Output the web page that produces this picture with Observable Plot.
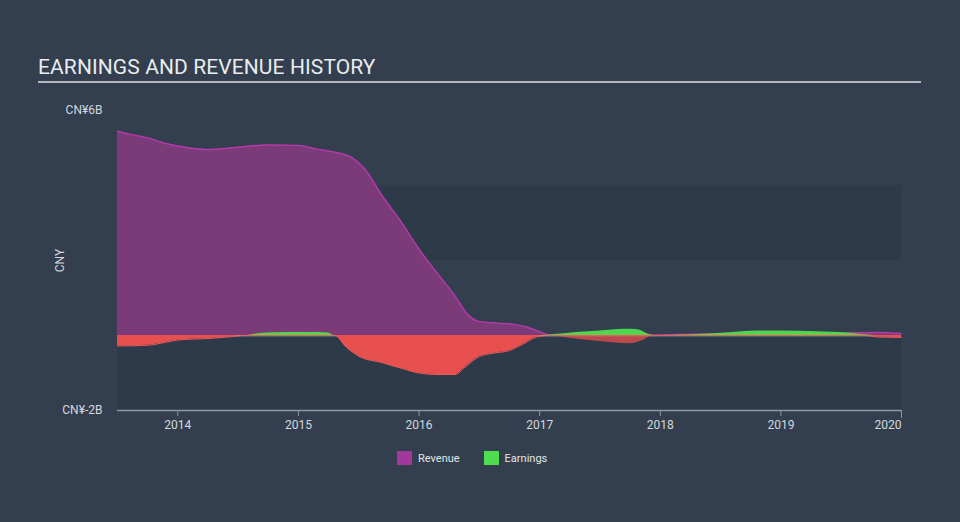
<!DOCTYPE html>
<html>
<head>
<meta charset="utf-8">
<script src="https://cdn.jsdelivr.net/npm/d3@7"></script>
<script src="https://cdn.jsdelivr.net/npm/@observablehq/plot@0.6"></script>
<style>
  html, body { margin: 0; padding: 0; background: #333f4f; width: 960px; height: 522px; overflow: hidden; font-family: Roboto, "Open Sans", sans-serif; }
  #title { position: absolute; left: 38px; top: 55px; font-size: 21px; color: #e9ecee; letter-spacing: 0.1px; white-space: nowrap; }
  #rule { position: absolute; left: 38px; top: 81px; width: 883px; height: 2px; background: #b4b8bc; }
  #chart { position: absolute; left: 0; top: 90px; }
  #legend { position: absolute; top: 451px; left: 397px; display: flex; align-items: center; font-size: 11px; color: #e2e5e8; }
  .sw { width: 15px; height: 14px; display: inline-block; margin-right: 6px; }
  .item { display: flex; align-items: center; margin-right: 24px; }
</style>
</head>
<body>
<div id="title">EARNINGS AND REVENUE HISTORY</div>
<div id="rule"></div>
<div id="chart"></div>
<div id="legend">
  <div class="item"><span class="sw" style="background:#a2379c"></span>Revenue</div>
  <div class="item"><span class="sw" style="background:#4fdc4f"></span>Earnings</div>
</div>
<script>
// Revenue (CN¥ billions)
const revYears = [2013.5, 2013.6, 2013.75, 2013.9, 2014.1, 2014.25, 2014.5, 2014.75, 2015.0, 2015.15, 2015.3, 2015.45, 2015.55, 2015.7, 2015.85, 2016.0, 2016.15, 2016.3, 2016.4, 2016.5, 2016.65, 2016.8, 2016.9, 2017.0, 2017.1, 2017.2, 2017.5, 2017.75, 2017.85, 2017.95, 2018.1, 2018.5, 2019.0, 2019.5, 2019.8, 2020.0];
const revenue  = [5.45, 5.37, 5.27, 5.12, 5.0, 4.96, 5.02, 5.08, 5.07, 4.97, 4.89, 4.73, 4.44, 3.70, 3.04, 2.30, 1.66, 1.05, 0.57, 0.37, 0.33, 0.29, 0.22, 0.10, 0.0, -0.05, -0.16, -0.22, -0.14, 0.0, 0.02, 0.04, 0.05, 0.07, 0.08, 0.05];

// Earnings (CN¥ billions)
const earnYears = [2013.5, 2013.75, 2013.9, 2014.0, 2014.25, 2014.45, 2014.55, 2014.7, 2014.9, 2015.1, 2015.25, 2015.3, 2015.4, 2015.5, 2015.7, 2015.85, 2016.0, 2016.15, 2016.3, 2016.38, 2016.5, 2016.62, 2016.75, 2016.85, 2017.0, 2017.1, 2017.3, 2017.5, 2017.7, 2017.8, 2017.95, 2018.1, 2018.4, 2018.6, 2018.8, 2019.0, 2019.3, 2019.55, 2019.7, 2019.8, 2020.0];
const earnings  = [-0.28, -0.26, -0.18, -0.12, -0.08, -0.03, 0.0, 0.06, 0.08, 0.08, 0.07, 0.0, -0.32, -0.55, -0.73, -0.87, -1.0, -1.04, -1.04, -0.85, -0.56, -0.47, -0.40, -0.25, -0.02, 0.02, 0.08, 0.12, 0.17, 0.16, 0.0, 0.01, 0.04, 0.08, 0.12, 0.12, 0.10, 0.07, 0.02, -0.04, -0.05];

const yTicks = [-2, 6];
const yTickLabels = ["CN¥-2B", "CN¥6B"];
const xTicks = [2014, 2015, 2016, 2017, 2018, 2019, 2020];
const bandRanges = [[-2, 0], [2, 4]];

const rev = revYears.map((t, i) => ({t, v: revenue[i]}));
const earn = earnYears.map((t, i) => ({t, v: earnings[i]}));
const bands = bandRanges.map(([a, b]) => ({a, b}));
const lastTick = xTicks[xTicks.length - 1];
const innerTicks = xTicks.slice(0, -1);

const purpleFill = "#7b3a78", purpleStroke = "#b13aa8";
const greenFill = "#4ed64e";
const redFill = "#e84f4f", redStroke = "#f05a5a";
const curve = "monotone-x";
const axisColor = "#8c98a4", labelColor = "#d4d8dc";

const chart = Plot.plot({
  width: 960,
  height: 350,
  marginLeft: 117,
  marginRight: 59,
  marginTop: 20,
  marginBottom: 30,
  style: {background: "transparent", fontFamily: "Roboto, sans-serif", color: labelColor, overflow: "visible"},
  x: {domain: [2013.5, 2020], label: null},
  y: {domain: [-2, 6], label: null},
  marks: [
    Plot.rect(bands, {x1: 2013.5, x2: 2020, y1: "a", y2: "b", fill: "#2d3a4a"}),
    Plot.ruleY([0], {stroke: "#e6e6e6", strokeWidth: 1.5, strokeOpacity: 0.8}),
    Plot.areaY(rev, {x: "t", y: d => Math.max(0, d.v), fill: purpleFill, curve}),
    Plot.lineY(rev, {x: "t", y: d => Math.max(0, d.v), stroke: purpleStroke, strokeWidth: 1.5, curve}),
    Plot.areaY(rev, {x: "t", y: d => Math.min(0, d.v), fill: redFill, fillOpacity: 0.75, curve}),
    Plot.areaY(earn, {x: "t", y: d => Math.max(0, d.v), fill: greenFill, curve}),
    Plot.areaY(earn, {x: "t", y: d => Math.min(0, d.v), fill: redFill, curve}),
    Plot.lineY(earn, {x: "t", y: d => Math.min(0, d.v), stroke: redStroke, strokeWidth: 1, curve}),
    Plot.axisX({ticks: innerTicks, tickFormat: d => String(d), tickSize: 6, tickPadding: 4, stroke: axisColor, fill: labelColor, fontSize: 12, label: null}),
    Plot.axisX({ticks: [lastTick], tickFormat: d => String(d), tickSize: 8, tickPadding: 2, stroke: axisColor, fill: labelColor, fontSize: 12, textAnchor: "end", label: null}),
    Plot.ruleY([-2], {x1: 2013.5, x2: 2020, stroke: axisColor, strokeWidth: 1.5}),
    Plot.axisY({ticks: yTicks, tickFormat: d => yTickLabels[yTicks.indexOf(d)], tickSize: 0, tickPadding: 15, fill: labelColor, fontSize: 12,
      label: "CNY", labelAnchor: "center", labelArrow: "none", labelOffset: 62})
  ]
});
document.getElementById("chart").appendChild(chart);
</script>
</body>
</html>
